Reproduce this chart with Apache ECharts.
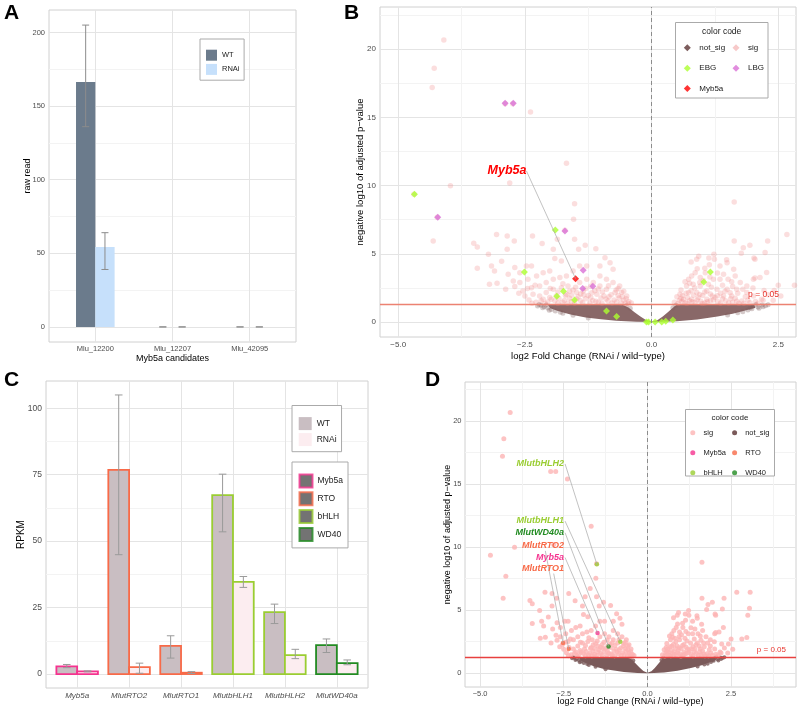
<!DOCTYPE html>
<html>
<head>
<meta charset="utf-8">
<script src="https://cdn.jsdelivr.net/npm/echarts@6/dist/echarts.min.js"></script>
<style>
html, body { margin: 0; padding: 0; background: #fff; }
#chart { width: 799px; height: 709px; }
</style>
</head>
<body>
<div id="chart"></div>
<script>
// ---- panel A: raw reads of the Myb5a candidates ----
const aCategories = ['Mlu_12200', 'Mlu_12207', 'Mlu_42095'];
const aWT = [166.4, 0, 0];
const aWTLow = [136, 0, 0];
const aWTHigh = [205, 0, 0];
const aRNAi = [54.2, 0, 0];
const aRNAiLow = [39, 0, 0];
const aRNAiHigh = [64, 0, 0];
const aYTicks = [0, 50, 100, 150, 200];
const aYMinor = [25, 75, 125, 175];

// ---- panel C: RPKM of the marker genes ----
const cGenes = ['Myb5a', 'MlutRTO2', 'MlutRTO1', 'MlutbHLH1', 'MlutbHLH2', 'MlutWD40a'];
const cGroups = ['Myb5a', 'RTO', 'RTO', 'bHLH', 'bHLH', 'WD40'];
const cWT = [2.9, 76.8, 10.6, 67.3, 23.3, 10.9];
const cWTLow = [2.4, 44.9, 6.0, 53.5, 19.0, 8.1];
const cWTHigh = [3.6, 105, 14.4, 75.2, 26.3, 13.2];
const cRNAi = [1.0, 2.6, 0.5, 34.7, 7.1, 4.1];
const cRNAiLow = [0.8, 0.3, 0.2, 32.6, 5.8, 3.5];
const cRNAiHigh = [1.2, 4.1, 0.9, 36.7, 9.3, 5.3];
const cYTicks = [0, 25, 50, 75, 100];
const cYMinor = [12.5, 37.5, 62.5, 87.5];

// ---- panels B and D: volcano (log2FC, -log10 padj) ----
const volYTicks = [0, 5, 10, 15, 20];
const volYMinor = [2.5, 7.5, 12.5, 17.5, 22.5];
const volXTicks = [-5, -2.5, 0, 2.5];
const bXMinor = [-3.75, -1.25, 1.25];
const dXMinor = [-3.75, -1.25, 1.25, 3.75];
const pCutoff = 1.3;

// significant genes
const sigPoints = [
  [-4.10, 20.68], [-4.29, 18.6], [-4.33, 17.2], [-2.89, 16.0], [-2.74, 16.0], [-2.39, 15.4],
  [-1.68, 11.65], [-3.97, 9.99], [-2.80, 10.2], [-4.69, 9.36], [-1.52, 8.68], [-4.23, 7.68],
  [-1.54, 7.53], [-1.71, 6.72], [-3.06, 6.42], [-2.85, 6.31], [-2.35, 6.31], [-4.31, 5.94],
  [-2.71, 5.94], [-3.51, 5.77], [-3.44, 5.50], [-2.85, 5.33], [-1.94, 5.33], [-1.44, 5.33],
  [-1.52, 6.07], [-1.86, 6.07], [-2.16, 5.75], [-1.31, 5.62], [-1.10, 5.37], [-3.22, 4.97],
  [-2.96, 4.45], [-1.91, 4.65], [-1.78, 4.48], [-0.92, 4.72], [-0.82, 4.35],
  [-3.44, 3.94], [-3.16, 4.11], [-3.10, 3.74], [-3.05, 2.84], [-3.20, 2.77], [-2.88, 2.40],
  [-2.83, 3.50], [-2.70, 3.99], [-2.60, 3.62], [-2.47, 4.11], [-2.37, 4.11], [-2.73, 3.01],
  [-2.60, 2.89], [-2.44, 3.13], [-2.27, 3.38], [-2.14, 3.62], [-2.01, 3.74], [-2.54, 2.27],
  [-2.37, 2.52], [-2.21, 2.64], [-2.08, 2.89], [-1.94, 3.13], [-1.81, 3.26], [-1.68, 3.38],
  [-2.34, 2.03], [-2.21, 1.91], [-2.08, 2.16], [-1.94, 2.40], [-1.78, 2.52], [-1.65, 2.64],
  [-1.42, 2.89], [-1.28, 3.13], [-2.14, 1.67], [-2.01, 1.79], [-1.88, 1.91], [-1.68, 2.03],
  [-1.48, 2.16], [-1.35, 2.27], [-1.42, 4.11], [-1.55, 3.74], [-1.02, 4.11], [-0.76, 3.87],
  [-1.28, 4.11], [-1.02, 3.38], [-0.89, 3.13], [-0.76, 2.89], [-0.63, 2.64], [-1.15, 2.89],
  [-1.02, 2.64], [-0.89, 2.40], [-0.72, 2.16], [-0.59, 2.16], [-0.49, 1.91],
  [-2.42, 1.62], [-2.28, 1.45], [-2.05, 1.46], [-1.91, 1.56], [-1.76, 1.44], [-1.62, 1.74],
  [-1.58, 1.50], [-1.45, 1.85], [-1.40, 1.55], [-1.30, 1.70], [-1.25, 1.95], [-1.16, 1.58],
  [-1.12, 2.30], [-1.08, 2.04], [-1.00, 1.76], [-0.97, 2.20], [-0.94, 1.90], [-0.86, 1.54],
  [-0.80, 2.00], [-0.70, 2.35], [-0.69, 1.46], [-0.64, 1.76], [-0.55, 1.60], [-0.45, 1.50],
  [-0.40, 1.40], [-1.30, 2.45], [-1.55, 2.35], [-1.22, 1.42], [-1.05, 1.44], [-0.52, 1.36],
  [-2.50, 1.90], [-1.85, 1.38], [-1.70, 1.95],
  [-2.36, 1.38], [-2.18, 1.55], [-2.10, 1.36], [-1.98, 1.66], [-1.83, 1.72], [-1.72, 1.58],
  [-1.66, 1.38], [-1.52, 1.40], [-1.48, 1.68], [-1.36, 1.42], [-1.34, 1.98], [-1.20, 1.80],
  [-1.18, 2.15], [-1.10, 1.52], [-0.98, 1.38], [-0.90, 1.68], [-0.84, 1.85], [-0.78, 1.40],
  [-0.74, 1.62], [-0.66, 1.95], [-0.60, 1.40], [-0.58, 1.86], [-0.50, 1.70], [-0.46, 1.34],
  [-1.40, 2.05], [-1.58, 1.96], [-1.85, 2.20], [-2.00, 2.45], [-1.62, 2.25], [-1.20, 2.62],
  [-1.05, 2.42], [-0.85, 2.65], [-0.66, 2.45], [-0.55, 2.25], [-1.50, 2.55], [-1.75, 2.80],
  [-2.30, 2.70], [-2.45, 2.45], [-2.62, 2.10], [-2.70, 2.60],
  [1.63, 8.80], [1.63, 5.94], [2.29, 5.94], [2.67, 6.41], [3.07, 6.41], [3.05, 5.14],
  [3.00, 4.60], [1.81, 5.45], [1.94, 5.62], [2.04, 4.60], [2.24, 5.09], [1.77, 5.04],
  [1.48, 4.56], [1.23, 4.96], [0.93, 4.82], [1.13, 4.69], [0.89, 4.60], [1.24, 4.60],
  [1.35, 4.11], [1.49, 4.35], [1.62, 3.87], [1.42, 3.50],
  [0.73, 3.13], [0.79, 3.38], [0.86, 3.62], [0.96, 3.26], [1.06, 3.62], [0.69, 2.64],
  [0.82, 2.77], [0.96, 2.64], [1.12, 2.77], [1.22, 3.13], [1.35, 3.13], [1.51, 3.13],
  [1.65, 3.38], [1.75, 2.89], [1.88, 2.64], [2.01, 3.13], [2.14, 3.26], [1.88, 2.16],
  [2.01, 1.91], [2.17, 1.67], [1.68, 2.40], [1.49, 2.40], [1.29, 2.40], [1.09, 2.27],
  [0.89, 2.16], [0.73, 2.16], [0.56, 2.03], [0.63, 1.67], [0.79, 1.67], [0.92, 1.79],
  [1.09, 1.67], [1.25, 1.79], [1.42, 1.91], [1.58, 1.91], [1.78, 1.54], [1.94, 1.42],
  [2.50, 2.70], [2.82, 2.70], [2.97, 2.83], [2.22, 2.31], [2.42, 2.31], [2.27, 3.63],
  [2.04, 3.23], [2.02, 4.69],
  [0.45, 1.45], [0.55, 1.60], [0.66, 1.42], [0.75, 1.55], [0.86, 1.45], [0.97, 1.52],
  [1.05, 1.40], [1.16, 1.55], [1.31, 1.48], [1.46, 1.56], [1.60, 1.45], [1.72, 1.38],
  [2.05, 1.50], [2.20, 1.60], [0.50, 1.85], [0.61, 1.92], [0.71, 1.80], [0.83, 1.96],
  [1.01, 1.95], [1.16, 2.06], [1.20, 1.90], [1.36, 2.10], [1.55, 2.15], [1.65, 1.75],
  [1.85, 1.85], [0.58, 2.35], [0.66, 2.95], [1.02, 3.05], [0.90, 3.90], [1.30, 3.60],
  [1.14, 4.20], [0.78, 4.40], [1.05, 3.95],
  [0.52, 1.36], [0.60, 1.50], [0.70, 1.38], [0.80, 1.48], [0.90, 1.62], [1.00, 1.36],
  [1.10, 1.48], [1.22, 1.62], [1.36, 1.38], [1.40, 1.70], [1.52, 1.40], [1.56, 1.70],
  [1.68, 1.52], [1.82, 1.38], [1.90, 1.60], [2.10, 1.38], [0.58, 1.72], [0.68, 2.10],
  [0.78, 2.30], [0.95, 2.02], [1.05, 2.20], [1.30, 1.92], [1.45, 2.25], [1.70, 2.10],
  [1.60, 2.60], [1.80, 2.40], [0.85, 2.50], [1.18, 2.55], [1.40, 2.70], [0.75, 2.85],
  [0.95, 2.90], [1.15, 3.30], [1.58, 2.95], [2.00, 2.50], [2.30, 2.00], [2.40, 1.60],
  [2.55, 1.90]
];

// outline of the overplotted non-significant genes (solid block in the plots)
const notSigOutline = [
  [-2.05, 1.29], [-0.58, 1.29], [-0.45, 1.05], [-0.33, 0.70], [-0.22, 0.40], [-0.12, 0.16],
  [0, 0.04], [0.12, 0.14], [0.22, 0.40], [0.32, 0.72], [0.42, 1.05], [0.50, 1.29],
  [2.02, 1.29], [2.05, 1.05], [1.85, 0.85], [1.60, 0.60], [1.30, 0.40], [0.90, 0.18],
  [0.50, 0.06], [0.20, 0.01], [0, 0], [-0.30, 0.02], [-0.70, 0.10], [-1.00, 0.20],
  [-1.30, 0.33], [-1.60, 0.55], [-1.85, 0.80], [-2.00, 1.00]
];
// loose non-significant genes around the edge of that block
const notSigEdge = [
  [-2.18, 1.22], [-2.12, 1.12], [-2.05, 1.02], [-2.22, 1.28], [-1.98, 0.92], [-2.08, 1.25],
  [-1.90, 0.80], [-1.80, 0.72], [2.00, 1.18], [2.10, 1.10], [2.18, 1.25], [2.25, 1.20],
  [1.98, 0.98], [1.90, 0.88], [2.06, 1.28], [1.80, 0.75], [2.30, 1.27], [2.12, 1.00],
  [-0.50, 1.20], [-0.42, 1.00], [0.42, 1.05], [0.48, 1.22],
  [-2.25, 1.18], [-2.15, 1.05], [-2.02, 0.86], [-1.75, 0.64], [-1.55, 0.50], [-1.25, 0.30],
  [1.70, 0.68], [1.50, 0.52], [2.20, 1.12], [1.95, 1.05]
];

// panel B highlights
const ebgPoints = [
  [-4.68, 9.37], [-1.90, 6.75], [-2.51, 3.67], [-1.74, 2.25], [-1.87, 1.89], [-1.52, 1.61],
  [-0.89, 0.81], [-0.69, 0.40], [-0.10, 0.0], [-0.06, 0.0], [0.07, 0.0], [0.20, 0.0],
  [0.28, 0.05], [0.42, 0.15], [1.03, 2.93], [1.16, 3.67]
];
const lbgPoints = [
  [-2.89, 16.04], [-2.73, 16.04], [-4.22, 7.68], [-1.71, 6.68], [-1.35, 3.79],
  [-1.36, 2.45], [-1.16, 2.62]
];
const bMyb5a = [[-1.50, 3.18]];
const bLabelText = ['Myb5a'];
const bLabelAnchor = [[-2.47, 11.08]];

// panel D highlights
const dGenes = ['Myb5a', 'MlutRTO2', 'MlutRTO1', 'MlutbHLH1', 'MlutbHLH2', 'MlutWD40a'];
const dGeneGroup = ['Myb5a', 'RTO', 'RTO', 'bHLH', 'bHLH', 'WD40'];
const dGeneX = [-1.49, -2.52, -2.35, -0.81, -1.51, -1.16];
const dGeneY = [3.18, 2.39, 1.91, 2.49, 8.64, 2.12];
const dLabelAnchor = [[-2.49, 9.20], [-2.49, 10.15], [-2.49, 8.28], [-2.49, 12.12], [-2.49, 16.66], [-2.49, 11.17]];
const dSegStart = [[-2.46, 9.17], [-3.05, 9.7], [-2.80, 7.9], [-2.46, 12.06], [-2.46, 16.6], [-2.46, 11.14]];

// ---- styles ----
const FONT = '"Liberation Sans", Arial, Helvetica, sans-serif';
const MAJOR = '#e4e4e4';
const MINOR = '#f3f3f3';
const BORDER = '#d0d0d0';
const TICK_TXT = '#4d4d4d';
const groupColors = { Myb5a: '#f5338f', RTO: '#f86a48', bHLH: '#9acd32', WD40: '#228b22' };

function majorAxis(grid, min, max, ticks, label, name) {
  return Object.assign({
    type: 'value', gridIndex: grid, min: min, max: max,
    axisLine: { show: false },
    axisTick: { show: false, customValues: ticks },
    axisLabel: Object.assign({ customValues: ticks, color: TICK_TXT, fontFamily: FONT, fontSize: 8 }, label),
    splitLine: { show: true, lineStyle: { color: MAJOR, width: 1 } }
  }, name);
}
function minorAxis(grid, min, max, ticks, position) {
  return {
    type: 'value', gridIndex: grid, min: min, max: max, position: position,
    axisLine: { show: false },
    axisTick: { show: false, customValues: ticks },
    axisLabel: { show: false },
    splitLine: { show: true, lineStyle: { color: MINOR, width: 1 } }
  };
}
function axisName(text, gap, size) {
  return { name: text, nameLocation: 'middle', nameGap: gap, nameMoveOverlap: false,
    nameTextStyle: { color: '#000', fontFamily: FONT, fontSize: size } };
}
const fcLabel = v => (v < 0 ? '\u2212' : '') + Math.abs(v).toFixed(1);

function barRenderer(from, to, fill, bordered) {
  return function (params, api) {
    const x = api.value(0);
    const tl = api.coord([x + from, api.value(1)]);
    const br = api.coord([x + to, 0]);
    const style = { fill: fill };
    if (bordered) {
      style.stroke = groupColors[cGroups[params.dataIndex]];
      style.lineWidth = 1.8;
    }
    return { type: 'rect', shape: { x: tl[0], y: tl[1], width: br[0] - tl[0], height: br[1] - tl[1] }, style: style };
  };
}
function errRenderer(capHalf, color) {
  return function (params, api) {
    const x = api.value(0);
    const lo = api.coord([x, api.value(1)]);
    const hi = api.coord([x, api.value(2)]);
    const st = { stroke: color, lineWidth: 1 };
    return { type: 'group', children: [
      { type: 'line', shape: { x1: lo[0], y1: lo[1], x2: hi[0], y2: hi[1] }, style: st },
      { type: 'line', shape: { x1: lo[0] - capHalf, y1: lo[1], x2: lo[0] + capHalf, y2: lo[1] }, style: st },
      { type: 'line', shape: { x1: hi[0] - capHalf, y1: hi[1], x2: hi[0] + capHalf, y2: hi[1] }, style: st }
    ] };
  };
}
function cloudRenderer(fill) {
  return function (params, api) {
    return { type: 'polygon', shape: { points: notSigOutline.map(p => api.coord(p)) }, style: { fill: fill } };
  };
}
function labelRenderer(texts, colorOf, size) {
  return function (params, api) {
    const i = params.dataIndex;
    const l = api.coord([api.value(0), api.value(1)]);
    const s = api.coord([api.value(2), api.value(3)]);
    const p = api.coord([api.value(4), api.value(5)]);
    return { type: 'group', children: [
      { type: 'line', shape: { x1: s[0], y1: s[1], x2: p[0], y2: p[1] }, style: { stroke: '#a8a8a8', lineWidth: 0.7 } },
      { type: 'text', x: l[0], y: l[1], style: { text: texts[i], fill: colorOf(i), fontFamily: FONT,
        fontSize: size, fontWeight: 'bold', fontStyle: 'italic', align: 'right', verticalAlign: 'middle' } }
    ] };
  };
}

const chart = echarts.init(document.getElementById('chart'));

const gridStyle = { show: true, borderColor: BORDER, borderWidth: 1, backgroundColor: 'transparent' };
const legendBase = { orient: 'vertical', selectedMode: false, backgroundColor: '#fff' };

chart.setOption({
  animation: false,
  textStyle: { fontFamily: FONT },
  title: [
    { text: 'A', left: 4, top: 3, padding: 0, textStyle: { fontSize: 21, fontWeight: 'bold', color: '#000' } },
    { text: 'B', left: 344, top: 3, padding: 0, textStyle: { fontSize: 21, fontWeight: 'bold', color: '#000' } },
    { text: 'C', left: 4, top: 370, padding: 0, textStyle: { fontSize: 21, fontWeight: 'bold', color: '#000' } },
    { text: 'D', left: 425, top: 370, padding: 0, textStyle: { fontSize: 21, fontWeight: 'bold', color: '#000' } }
  ],
  grid: [
    Object.assign({ left: 49, top: 10, width: 247, height: 332 }, gridStyle),
    Object.assign({ left: 46, top: 381, width: 322, height: 307 }, gridStyle),
    Object.assign({ left: 380, top: 7, width: 416, height: 330 }, gridStyle),
    Object.assign({ left: 465, top: 382, width: 331, height: 305 }, gridStyle)
  ],
  xAxis: [
    majorAxis(0, 0.4, 3.6, [1, 2, 3], { margin: 3, fontSize: 7.5, formatter: v => aCategories[Math.round(v) - 1] },
      axisName('Myb5a candidates', 12.5, 9)),
    majorAxis(1, 0.4, 6.6, [1, 2, 3, 4, 5, 6], { margin: 4, fontSize: 8, fontStyle: 'italic', formatter: v => cGenes[Math.round(v) - 1] }, {}),
    majorAxis(2, -5.36, 2.85, volXTicks, { margin: 4, fontSize: 8, formatter: fcLabel },
      axisName('log2 Fold Change (RNAi / wild\u2212type)', 14.5, 9.5)),
    minorAxis(2, -5.36, 2.85, bXMinor, 'top'),
    majorAxis(3, -5.45, 4.44, volXTicks, { margin: 3, fontSize: 7.5, formatter: fcLabel },
      axisName('log2 Fold Change (RNAi / wild\u2212type)', 10.5, 9)),
    minorAxis(3, -5.45, 4.44, dXMinor, 'top')
  ],
  yAxis: [
    majorAxis(0, -10.25, 215.25, aYTicks, { margin: 4, fontSize: 7.5 }, axisName('raw read', 17, 9)),
    minorAxis(0, -10.25, 215.25, aYMinor, 'right'),
    majorAxis(1, -5.25, 110.25, cYTicks, { margin: 4, fontSize: 8.5 }, axisName('RPKM', 20, 10)),
    minorAxis(1, -5.25, 110.25, cYMinor, 'right'),
    majorAxis(2, -1.1, 23.1, volYTicks, { margin: 4, fontSize: 8 }, axisName('negative log10 of adjusted p\u2212value', 15, 9.5)),
    minorAxis(2, -1.1, 23.1, volYMinor, 'right'),
    majorAxis(3, -1.1, 23.1, volYTicks, { margin: 3.5, fontSize: 7.5 }, axisName('negative log10 of adjusted p\u2212value', 13, 9)),
    minorAxis(3, -1.1, 23.1, volYMinor, 'right')
  ],
  legend: [
    Object.assign({}, legendBase, {
      left: 200, top: 39, padding: [10.7, 4.6, 5.3, 6], itemWidth: 11, itemHeight: 11, itemGap: 3.2,
      borderColor: '#aaaaaa', borderWidth: 1,
      textStyle: { fontSize: 7.5, color: '#1a1a1a' },
      data: [{ name: 'WT', icon: 'rect', itemStyle: { color: '#6b7b8c' } },
             { name: 'RNAi', icon: 'rect', itemStyle: { color: '#c6e0fb' } }]
    }),
    Object.assign({}, legendBase, {
      left: 292, top: 405.5, padding: [11.6, 5, 5.6, 6.7], itemWidth: 13, itemHeight: 13, itemGap: 3,
      borderColor: '#aaaaaa', borderWidth: 1,
      textStyle: { fontSize: 8.5, color: '#1a1a1a' },
      data: [{ name: 'WT', icon: 'rect', itemStyle: { color: '#c9bec2' } },
             { name: 'RNAi', icon: 'rect', itemStyle: { color: '#fcedf0' } }]
    }),
    Object.assign({}, legendBase, {
      left: 292, top: 462, padding: [11.5, 5, 6, 6.5], itemWidth: 13, itemHeight: 13, itemGap: 2.8,
      borderColor: '#aaaaaa', borderWidth: 1,
      textStyle: { fontSize: 8.5, color: '#1a1a1a' },
      data: ['Myb5a', 'RTO', 'bHLH', 'WD40'].map(g => ({ name: g, icon: 'rect',
        itemStyle: { color: '#505050', borderColor: groupColors[g], borderWidth: 2 } }))
    }),
    // panel B "color code", two columns
    {
      orient: 'vertical', selectedMode: false, left: 683.8, top: 43.8, padding: 0,
      itemWidth: 7, itemHeight: 7, itemGap: 12.35,
      textStyle: { fontSize: 8, color: '#1a1a1a', lineHeight: 7, padding: [0, 0, 0, 3.5] },
      data: [{ name: 'not_sig', icon: 'diamond', itemStyle: { color: '#7d5d5d' } },
             { name: 'EBG', icon: 'diamond', itemStyle: { color: '#adff2f' } },
             { name: 'Myb5a', icon: 'diamond', itemStyle: { color: '#ff0000' } }]
    },
    {
      orient: 'vertical', selectedMode: false, left: 732.5, top: 43.8, padding: 0,
      itemWidth: 7, itemHeight: 7, itemGap: 12.35,
      textStyle: { fontSize: 8, color: '#1a1a1a', lineHeight: 7, padding: [0, 0, 0, 3.5] },
      data: [{ name: 'sig', icon: 'diamond', itemStyle: { color: '#f5bcbc' } },
             { name: 'LBG', icon: 'diamond', itemStyle: { color: '#da70d6' } }]
    },
    // panel D "color code", two columns
    {
      orient: 'vertical', selectedMode: false, left: 690.3, top: 428.8, padding: 0,
      itemWidth: 11.4, itemHeight: 5, itemGap: 12,
      textStyle: { fontSize: 7.5, color: '#1a1a1a', lineHeight: 5 },
      data: [{ name: 'sig', icon: 'circle', itemStyle: { color: '#fcb4b4' } },
             { name: 'Myb5a', icon: 'circle', itemStyle: { color: groupColors.Myb5a } },
             { name: 'bHLH', icon: 'circle', itemStyle: { color: groupColors.bHLH } }]
    },
    {
      orient: 'vertical', selectedMode: false, left: 732.1, top: 428.8, padding: 0,
      itemWidth: 11.2, itemHeight: 5, itemGap: 12,
      textStyle: { fontSize: 7.5, color: '#1a1a1a', lineHeight: 5 },
      data: [{ name: 'not_sig', icon: 'circle', itemStyle: { color: '#7a5a5a' } },
             { name: 'RTO', icon: 'circle', itemStyle: { color: groupColors.RTO } },
             { name: 'WD40', icon: 'circle', itemStyle: { color: groupColors.WD40 } }]
    }
  ],
  graphic: [
    { type: 'rect', z: 3, shape: { x: 675.5, y: 22.5, width: 92.5, height: 75.5 }, style: { fill: '#fff', stroke: '#aaaaaa', lineWidth: 1 } },
    { type: 'text', z: 5, x: 721.7, y: 31.7, style: { text: 'color code', align: 'center', verticalAlign: 'middle', fontSize: 8.5, fontFamily: FONT, fill: '#1a1a1a' } },
    { type: 'rect', z: 3, shape: { x: 685.5, y: 409.5, width: 89, height: 66.5 }, style: { fill: '#fff', stroke: '#aaaaaa', lineWidth: 1 } },
    { type: 'text', z: 5, x: 730, y: 417.5, style: { text: 'color code', align: 'center', verticalAlign: 'middle', fontSize: 8, fontFamily: FONT, fill: '#1a1a1a' } }
  ],
  series: [
    // ---- A ----
    { type: 'custom', name: 'WT', xAxisIndex: 0, yAxisIndex: 0,
      data: aCategories.map((c, i) => [i + 1, aWT[i]]), renderItem: barRenderer(-0.25, 0, '#6b7b8c', false) },
    { type: 'custom', name: 'RNAi', xAxisIndex: 0, yAxisIndex: 0,
      data: aCategories.map((c, i) => [i + 1, aRNAi[i]]), renderItem: barRenderer(0, 0.25, '#c6e0fb', false) },
    { type: 'custom', name: 'errA', xAxisIndex: 0, yAxisIndex: 0, z: 3,
      data: aCategories.flatMap((c, i) => [[i + 1 - 0.125, aWTLow[i], aWTHigh[i]], [i + 1 + 0.125, aRNAiLow[i], aRNAiHigh[i]]]),
      renderItem: errRenderer(3.5, '#8c8c8c') },
    // ---- C ----
    { type: 'custom', name: 'WT', xAxisIndex: 1, yAxisIndex: 2,
      data: cGenes.map((g, i) => [i + 1, cWT[i]]), renderItem: barRenderer(-0.4, 0, '#c9bec2', true) },
    { type: 'custom', name: 'RNAi', xAxisIndex: 1, yAxisIndex: 2,
      data: cGenes.map((g, i) => [i + 1, cRNAi[i]]), renderItem: barRenderer(0, 0.4, '#fcedf0', true) },
    { type: 'custom', name: 'errC', xAxisIndex: 1, yAxisIndex: 2, z: 3,
      data: cGenes.flatMap((g, i) => [[i + 1 - 0.2, cWTLow[i], cWTHigh[i]], [i + 1 + 0.2, cRNAiLow[i], cRNAiHigh[i]]]),
      renderItem: errRenderer(3.8, '#9a9a9a') },
    // ---- B ----
    { type: 'custom', name: 'not_sig', xAxisIndex: 2, yAxisIndex: 4, data: [[0, 0]], renderItem: cloudRenderer('#896868') },
    { type: 'scatter', name: 'not_sig', xAxisIndex: 2, yAxisIndex: 4, symbolSize: 5, data: notSigEdge,
      itemStyle: { color: 'rgba(125,90,90,0.4)' } },
    { type: 'scatter', name: 'sig', xAxisIndex: 2, yAxisIndex: 4, symbolSize: 5.5, data: sigPoints,
      itemStyle: { color: 'rgba(240,128,128,0.33)' },
      markLine: { silent: true, symbol: 'none', animation: false,
        data: [
          { xAxis: 0, lineStyle: { type: [4, 3], color: '#8c8c8c', width: 1 }, label: { show: false } },
          { yAxis: pCutoff, lineStyle: { type: 'solid', color: '#ec8272', width: 1.3 },
            label: { show: true, position: 'insideEndTop', formatter: 'p = 0.05', color: '#e8352e',
              fontSize: 8.5, fontFamily: FONT, padding: [0, 12, 0, 0], distance: 5 } }
        ] } },
    { type: 'scatter', name: 'EBG', xAxisIndex: 2, yAxisIndex: 4, symbol: 'diamond', symbolSize: 7,
      data: ebgPoints, itemStyle: { color: '#adff2f' }, z: 4 },
    { type: 'scatter', name: 'LBG', xAxisIndex: 2, yAxisIndex: 4, symbol: 'diamond', symbolSize: 7,
      data: lbgPoints, itemStyle: { color: '#da70d6' }, z: 4 },
    { type: 'scatter', name: 'Myb5a', xAxisIndex: 2, yAxisIndex: 4, symbol: 'diamond', symbolSize: 7,
      data: bMyb5a, itemStyle: { color: '#ff0000' }, z: 4 },
    { type: 'custom', name: 'bLabels', xAxisIndex: 2, yAxisIndex: 4, z: 5,
      data: bLabelText.map((t, i) => [bLabelAnchor[i][0], bLabelAnchor[i][1], bLabelAnchor[i][0], bLabelAnchor[i][1], bMyb5a[i][0], bMyb5a[i][1]]),
      renderItem: labelRenderer(bLabelText, () => '#ff0000', 12.5) },
    // ---- D ----
    { type: 'custom', name: 'not_sig', xAxisIndex: 4, yAxisIndex: 6, data: [[0, 0]], renderItem: cloudRenderer('#7a5a5a') },
    { type: 'scatter', name: 'not_sig', xAxisIndex: 4, yAxisIndex: 6, symbolSize: 4, data: notSigEdge,
      itemStyle: { color: '#7a5a5a' } },
    { type: 'scatter', name: 'sig', xAxisIndex: 4, yAxisIndex: 6, symbolSize: 5, data: sigPoints,
      itemStyle: { color: '#fcb4b4' },
      markLine: { silent: true, symbol: 'none', animation: false,
        data: [
          { xAxis: 0, lineStyle: { type: [4, 3], color: '#8c8c8c', width: 1 }, label: { show: false } },
          { yAxis: pCutoff, lineStyle: { type: 'solid', color: '#e8403f', width: 1.3 },
            label: { show: true, position: 'insideEndTop', formatter: 'p = 0.05', color: '#e8352e',
              fontSize: 8, fontFamily: FONT, padding: [0, 7, 0, 0], distance: 3 } }
        ] } }
  ].concat(['Myb5a', 'RTO', 'bHLH', 'WD40'].map(g => ({
    type: 'scatter', name: g, xAxisIndex: 4, yAxisIndex: 6, symbolSize: 4.5, z: 4,
    itemStyle: { color: groupColors[g] },
    data: dGenes.map((n, i) => [dGeneX[i], dGeneY[i], dGeneGroup[i]]).filter(d => d[2] === g)
  }))).concat([
    { type: 'custom', name: 'dLabels', xAxisIndex: 4, yAxisIndex: 6, z: 5,
      data: dGenes.map((n, i) => [dLabelAnchor[i][0], dLabelAnchor[i][1], dSegStart[i][0], dSegStart[i][1], dGeneX[i], dGeneY[i]]),
      renderItem: labelRenderer(dGenes, i => groupColors[dGeneGroup[i]], 9) }
  ])
});
</script>
</body>
</html>
